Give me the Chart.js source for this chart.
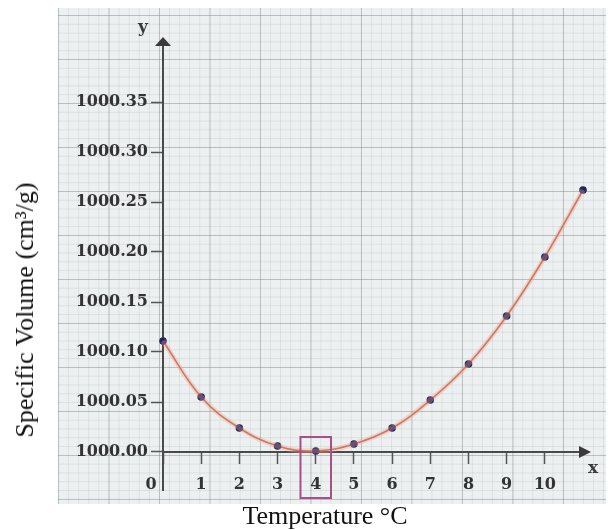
<!DOCTYPE html>
<html>
<head>
<meta charset="utf-8">
<script src="https://cdn.jsdelivr.net/npm/chart.js@4"></script>
<style>
  body { margin: 0; background: #fff; }
  #wrap { position: relative; width: 608px; height: 530px; overflow: hidden; }
  #paper {
    position: absolute; left: 58px; top: 8px; width: 548px; height: 496px;
    background-color: #edf0f0;
    background-image:
      linear-gradient(to right, rgba(120,130,130,0.36) 1px, transparent 1px),
      linear-gradient(to bottom, rgba(120,130,130,0.36) 1px, transparent 1px),
      linear-gradient(to right, rgba(150,160,160,0.2) 1px, transparent 1px),
      linear-gradient(to bottom, rgba(150,160,160,0.2) 1px, transparent 1px);
    background-size: 50.5px 100%, 100% 44px, 10.1px 100%, 100% 8.8px;
    background-position: 0 0, 0 7px, 0 0, 0 7px;
  }
  #chart { position: absolute; left: 0; top: 0; }
  .title { position: absolute; font-family: "Liberation Serif", serif; font-size: 26px; color: #111; white-space: nowrap; }
  #ytitle { left: 25px; top: 310px; transform: translate(-50%, -50%) rotate(-90deg); }
  #xtitle { left: 325px; top: 516px; transform: translate(-50%, -50%); }
</style>
</head>
<body>
<div id="wrap">
  <div id="paper"></div>
  <canvas id="chart" width="608" height="530"></canvas>
  <div class="title" id="ytitle">Specific Volume (cm³/g)</div>
  <div class="title" id="xtitle">Temperature °C</div>
</div>
<script>
// temperature in °C and specific volume of water in cm³/g
const temperatures = [0, 1, 2, 3, 4, 5, 6, 7, 8, 9, 10, 11];
const specificVolumes = [1000.111, 1000.055, 1000.024, 1000.006, 1000.001, 1000.008,
  1000.024, 1000.052, 1000.088, 1000.136, 1000.195, 1000.262];

const xTickValues = [0, 1, 2, 3, 4, 5, 6, 7, 8, 9, 10];
const yTickValues = [1000.00, 1000.05, 1000.10, 1000.15, 1000.20, 1000.25, 1000.30, 1000.35];

const highlightTemp = 4;

const tickFont = { family: "DejaVu Serif", weight: "bold", size: 16 };

// arrows on the axes, the x / y letters and the box around 4 °C
const axisDecor = {
  id: "axisDecor",
  afterDraw(chart) {
    const { ctx, chartArea } = chart;
    const xs = chart.scales.x;
    const ys = chart.scales.y;
    const x0 = xs.getPixelForValue(0);
    const y0 = ys.getPixelForValue(1000);

    ctx.save();
    ctx.fillStyle = "#3a3a3a";
    ctx.beginPath();
    ctx.moveTo(x0, chartArea.top - 3);
    ctx.lineTo(x0 - 8, chartArea.top + 6);
    ctx.lineTo(x0 + 8, chartArea.top + 6);
    ctx.closePath();
    ctx.fill();

    ctx.beginPath();
    ctx.moveTo(chartArea.right + 3, y0);
    ctx.lineTo(chartArea.right - 9, y0 - 6);
    ctx.lineTo(chartArea.right - 9, y0 + 6);
    ctx.closePath();
    ctx.fill();

    ctx.font = "bold 17px 'DejaVu Serif'";
    ctx.textAlign = "center";
    ctx.textBaseline = "middle";
    ctx.fillText("y", x0 - 20, chartArea.top - 12);
    ctx.fillText("x", chartArea.right + 5, y0 + 17);

    const bx1 = xs.getPixelForValue(highlightTemp - 0.4);
    const bx2 = xs.getPixelForValue(highlightTemp + 0.4);
    const by1 = ys.getPixelForValue(1000.015);
    const by2 = ys.getPixelForValue(999.954);
    ctx.strokeStyle = "#a4508c";
    ctx.lineWidth = 2;
    ctx.strokeRect(bx1, by1, bx2 - bx1, by2 - by1);
    ctx.restore();
  },
};

const points = temperatures.map((t, i) => ({ x: t, y: specificVolumes[i] }));

new Chart(document.getElementById("chart"), {
  type: "scatter",
  data: {
    datasets: [
      {
        label: "glow",
        data: points,
        showLine: true,
        tension: 0.4,
        clip: false,
        borderColor: "rgba(245,160,140,0.35)",
        borderWidth: 5,
        pointRadius: 0,
      },
      {
        label: "Specific Volume",
        data: points,
        showLine: true,
        tension: 0.4,
        clip: false,
        borderColor: "rgb(178,100,76)",
        borderWidth: 1.6,
        pointRadius: 3,
        pointBackgroundColor: "#23265a",
        pointBorderColor: "#23265a",
      },
    ],
  },
  options: {
    responsive: false,
    animation: false,
    devicePixelRatio: 1,
    layout: { padding: { left: 63, top: 40, right: 20, bottom: 40 } },
    plugins: {
      legend: { display: false },
      tooltip: { enabled: false },
    },
    scales: {
      x: {
        type: "linear",
        min: 0,
        max: 11.13,
        position: { y: 1000 },
        afterBuildTicks: (axis) => {
          axis.ticks = xTickValues.map((v) => ({ value: v }));
        },
        grid: { drawOnChartArea: false, tickLength: 11, tickColor: "#555", tickWidth: 1.5 },
        border: { color: "#4a4a4a", width: 2 },
        ticks: {
          font: tickFont,
          color: "#333",
          padding: 12,
          autoSkip: false,
          maxRotation: 0,
          callback: (v) => (v === 0 ? "0\u2003\u2002" : String(v)),
        },
      },
      y: {
        type: "linear",
        min: 999.962,
        max: 1000.412,
        position: "left",
        afterBuildTicks: (axis) => {
          axis.ticks = yTickValues.map((v) => ({ value: v }));
        },
        afterFit: (axis) => {
          axis.width = 100;
        },
        grid: { drawOnChartArea: false, tickLength: 12, tickColor: "#555", tickWidth: 1.5 },
        border: { color: "#4a4a4a", width: 2 },
        ticks: {
          font: tickFont,
          color: "#333",
          padding: 3,
          callback: (v) => v.toFixed(2),
        },
      },
    },
  },
  plugins: [axisDecor],
});
</script>
</body>
</html>
